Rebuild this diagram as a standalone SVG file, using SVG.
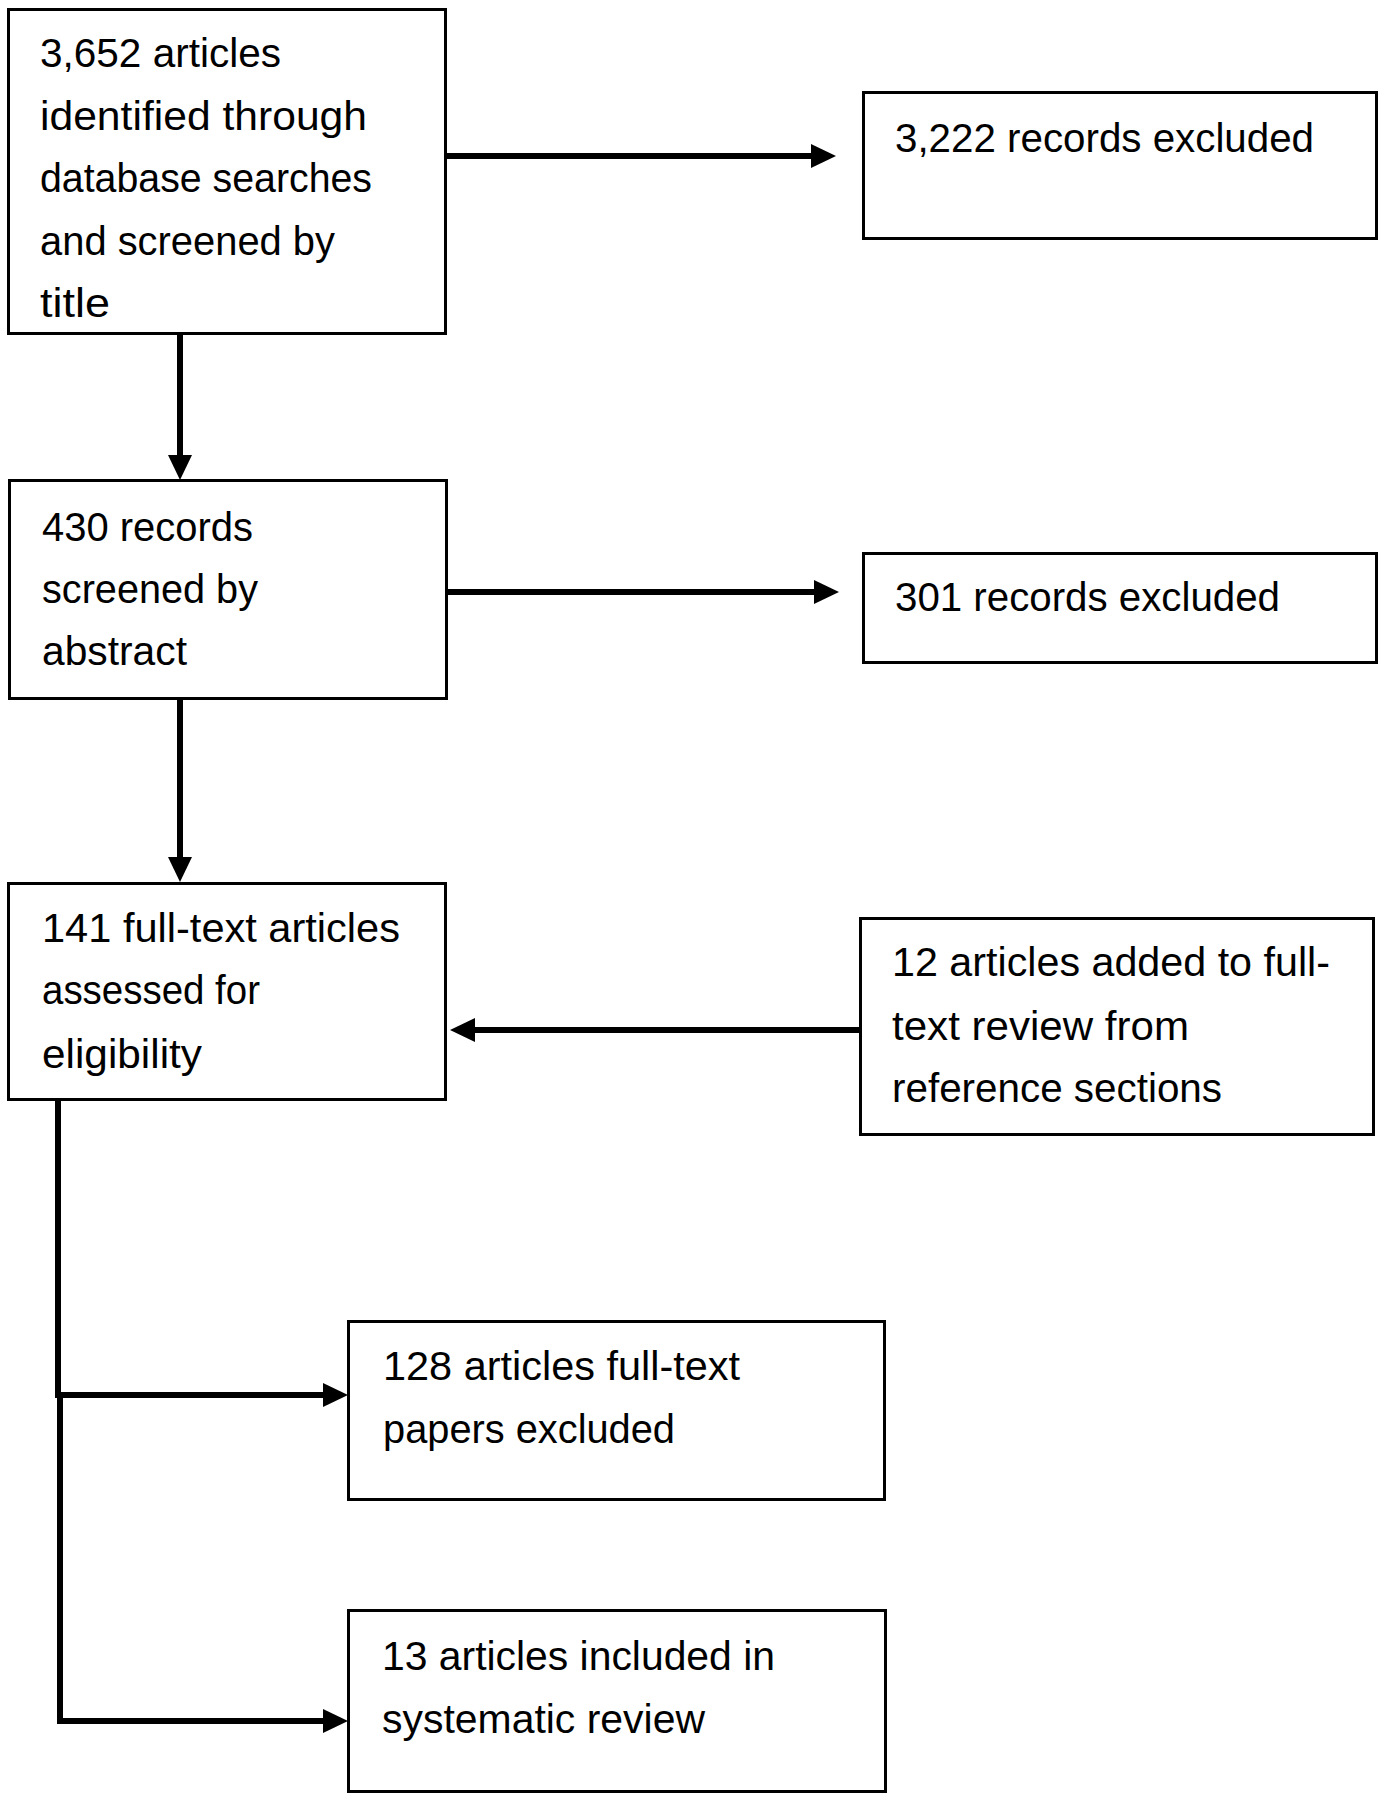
<svg xmlns="http://www.w3.org/2000/svg" width="1383" height="1801" viewBox="0 0 1383 1801">
<style>
.box{fill:#fff;stroke:#000;stroke-width:3}
.t{font-family:"Liberation Sans",Arial,sans-serif;font-size:41px;fill:#000}
.c{fill:none;stroke:#000;stroke-width:6}
</style>
<defs>
<marker id="ah" viewBox="0 0 25 24" refX="1" refY="12" markerWidth="25" markerHeight="24" markerUnits="userSpaceOnUse" orient="auto">
<path d="M0,0 L25,12 L0,24 z" fill="#000"/>
</marker>
</defs>
<rect width="1383" height="1801" fill="#fff"/>
<g id="connectors">
<path class="c" d="M446,156 H812" stroke-width="5" marker-end="url(#ah)"/>
<path class="c" d="M180,334 V456" marker-end="url(#ah)"/>
<path class="c" d="M447,592 H815" stroke-width="5" marker-end="url(#ah)"/>
<path class="c" d="M180,699 V858" marker-end="url(#ah)"/>
<path class="c" d="M860,1030 H474" marker-end="url(#ah)"/>
<path class="c" d="M58,1098 V1398" stroke-width="10"/>
<path class="c" d="M60,1395 V1724"/>
<path class="c" d="M58,1395 H324" marker-end="url(#ah)"/>
<path class="c" d="M57,1721 H324" marker-end="url(#ah)"/>
</g>
<g id="n1">
<rect class="box" x="8.5" y="9.5" width="437" height="324"/>
<text class="t" x="40" y="67" textLength="241" lengthAdjust="spacingAndGlyphs">3,652 articles</text>
<text class="t" x="40" y="130" textLength="327" lengthAdjust="spacingAndGlyphs">identified through</text>
<text class="t" x="40" y="192" textLength="332" lengthAdjust="spacingAndGlyphs">database searches</text>
<text class="t" x="40" y="255" textLength="295" lengthAdjust="spacingAndGlyphs">and screened by</text>
<text class="t" x="40" y="317" textLength="70" lengthAdjust="spacingAndGlyphs">title</text>
</g>
<g id="n2">
<rect class="box" x="863.5" y="92.5" width="513" height="146"/>
<text class="t" x="895" y="152" textLength="419" lengthAdjust="spacingAndGlyphs">3,222 records excluded</text>
</g>
<g id="n3">
<rect class="box" x="9.5" y="480.5" width="437" height="218"/>
<text class="t" x="42" y="541" textLength="211" lengthAdjust="spacingAndGlyphs">430 records</text>
<text class="t" x="42" y="603" textLength="216" lengthAdjust="spacingAndGlyphs">screened by</text>
<text class="t" x="42" y="665" textLength="145" lengthAdjust="spacingAndGlyphs">abstract</text>
</g>
<g id="n4">
<rect class="box" x="863.5" y="553.5" width="513" height="109"/>
<text class="t" x="895" y="611" textLength="385" lengthAdjust="spacingAndGlyphs">301 records excluded</text>
</g>
<g id="n5">
<rect class="box" x="8.5" y="883.5" width="437" height="216"/>
<text class="t" x="42" y="942" textLength="358" lengthAdjust="spacingAndGlyphs">141 full-text articles</text>
<text class="t" x="42" y="1004" textLength="218" lengthAdjust="spacingAndGlyphs">assessed for</text>
<text class="t" x="42" y="1068" textLength="160" lengthAdjust="spacingAndGlyphs">eligibility</text>
</g>
<g id="n6">
<rect class="box" x="860.5" y="918.5" width="513" height="216"/>
<text class="t" x="892" y="976" textLength="438" lengthAdjust="spacingAndGlyphs">12 articles added to full-</text>
<text class="t" x="892" y="1040" textLength="297" lengthAdjust="spacingAndGlyphs">text review from</text>
<text class="t" x="892" y="1102" textLength="330" lengthAdjust="spacingAndGlyphs">reference sections</text>
</g>
<g id="n7">
<rect class="box" x="348.5" y="1321.5" width="536" height="178"/>
<text class="t" x="383" y="1380" textLength="357" lengthAdjust="spacingAndGlyphs">128 articles full-text</text>
<text class="t" x="383" y="1443" textLength="292" lengthAdjust="spacingAndGlyphs">papers excluded</text>
</g>
<g id="n8">
<rect class="box" x="348.5" y="1610.5" width="537" height="181"/>
<text class="t" x="382" y="1670" textLength="393" lengthAdjust="spacingAndGlyphs">13 articles included in</text>
<text class="t" x="382" y="1733" textLength="323" lengthAdjust="spacingAndGlyphs">systematic review</text>
</g>
</svg>
